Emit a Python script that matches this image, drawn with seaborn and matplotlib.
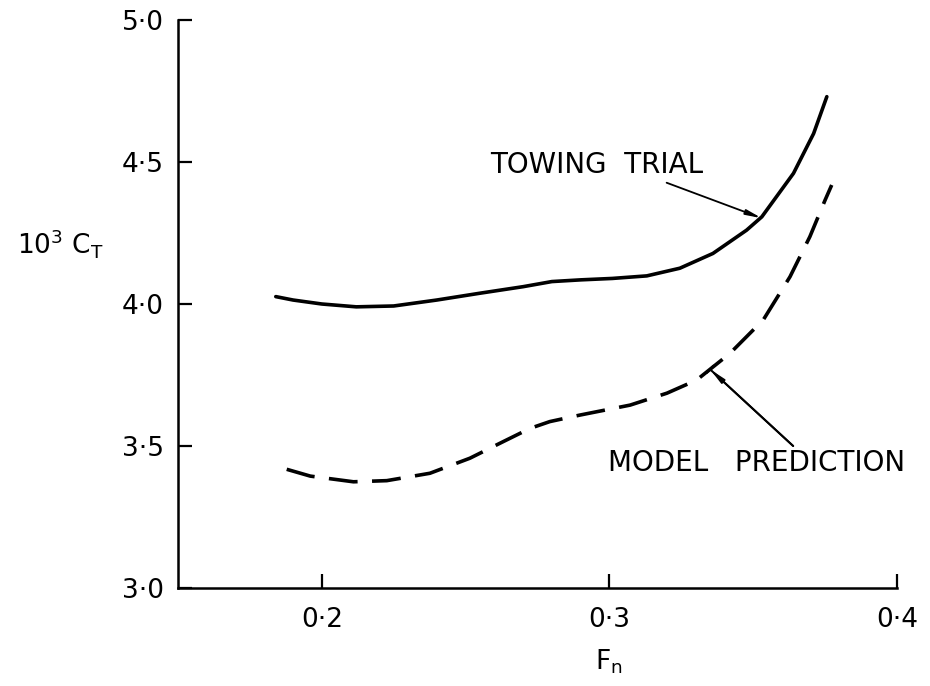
import matplotlib
matplotlib.use("Agg")
import matplotlib.pyplot as plt
import seaborn as sns
import pandas as pd

# ---- data ----
towing_fn = [0.184, 0.190, 0.200, 0.212, 0.225, 0.240, 0.255, 0.270, 0.280, 0.290,
             0.301, 0.313, 0.3245, 0.336, 0.3477, 0.353, 0.364, 0.371, 0.3756]
towing_ct = [4.026, 4.014, 4.000, 3.990, 3.993, 4.014, 4.038, 4.061, 4.079, 4.085,
             4.090, 4.099, 4.126, 4.178, 4.260, 4.307, 4.460, 4.600, 4.730]

model_fn = [0.1878, 0.196, 0.211, 0.2226, 0.2376, 0.2515, 0.263, 0.2724, 0.2793, 0.2898,
            0.3072, 0.320, 0.3303, 0.3419, 0.3535, 0.3628, 0.3697, 0.375, 0.3773]
model_ct = [3.418, 3.394, 3.374, 3.378, 3.404, 3.457, 3.515, 3.562, 3.586, 3.609,
            3.644, 3.686, 3.732, 3.826, 3.944, 4.096, 4.237, 4.366, 4.419]

x_ticks = [0.2, 0.3, 0.4]
x_tick_labels = ["0·2", "0·3", "0·4"]
y_ticks = [3.0, 3.5, 4.0, 4.5, 5.0]
y_tick_labels = ["3·0", "3·5", "4·0", "4·5", "5·0"]

series_names = ["TOWING TRIAL", "MODEL PREDICTION"]

df = pd.concat([
    pd.DataFrame({"Fn": towing_fn, "CT": towing_ct, "series": series_names[0]}),
    pd.DataFrame({"Fn": model_fn, "CT": model_ct, "series": series_names[1]}),
], ignore_index=True)

sns.set_style("ticks")
plt.rcParams["font.family"] = ["DejaVu Sans"]
plt.rcParams["text.color"] = "black"
plt.rcParams["axes.labelcolor"] = "black"
plt.rcParams["xtick.color"] = "black"
plt.rcParams["ytick.color"] = "black"

fig = plt.figure(figsize=(9.3, 6.86), dpi=100)
ax = fig.add_axes([178 / 930, 98 / 686, (897 - 178) / 930, (588 - 20) / 686])

sns.lineplot(data=df, x="Fn", y="CT", style="series",
             dashes={series_names[0]: "", series_names[1]: (8, 4)},
             color="black", linewidth=2.6, legend=False, ax=ax, sort=True)

ax.set_xlim(0.15, 0.4)
ax.set_ylim(3.0, 5.0)
ax.set_xticks(x_ticks)
ax.set_xticklabels(x_tick_labels)
ax.set_yticks(y_ticks)
ax.set_yticklabels(y_tick_labels)
ax.tick_params(axis="both", direction="in", length=10, width=1.6,
               labelsize=19, colors="black")
ax.tick_params(axis="y", pad=10)
ax.tick_params(axis="x", pad=14)
sns.despine(ax=ax)
for s in ["left", "bottom"]:
    ax.spines[s].set_linewidth(1.8)
    ax.spines[s].set_color("black")

ax.set_xlabel(r"$\mathregular{F_n}$", fontsize=19, color="black", va="center")
ax.xaxis.set_label_coords(0.599, -0.13)
ax.set_ylabel(r"$\mathregular{10^3\ C_T}$", fontsize=19, rotation=0,
              ha="center", va="center", color="black")
ax.yaxis.set_label_coords(-0.164, 0.607)

# annotations
ax.text(0.2585, 4.489, "TOWING  TRIAL", fontsize=20, ha="left", va="center",
        color="black")
ax.annotate("", xy=(0.353, 4.302), xytext=(0.3199, 4.427),
            arrowprops=dict(arrowstyle="-|>,head_length=0.9,head_width=0.15",
                            lw=1.3, color="black", shrinkA=0, shrinkB=0))

ax.text(0.2995, 3.44, "MODEL   PREDICTION", fontsize=20, ha="left", va="center",
        color="black")
ax.annotate("", xy=(0.335, 3.770), xytext=(0.3639, 3.50),
            arrowprops=dict(arrowstyle="-|>,head_length=0.9,head_width=0.15",
                            lw=1.3, color="black", shrinkA=0, shrinkB=0))
ax.annotate("", xy=(0.335, 3.770), xytext=(0.3639, 3.50),
            arrowprops=dict(arrowstyle="-[,widthB=0.35,lengthB=0",
                            lw=1.5, color="black", shrinkA=0, shrinkB=0))

fig.savefig("out.png", dpi=100)
